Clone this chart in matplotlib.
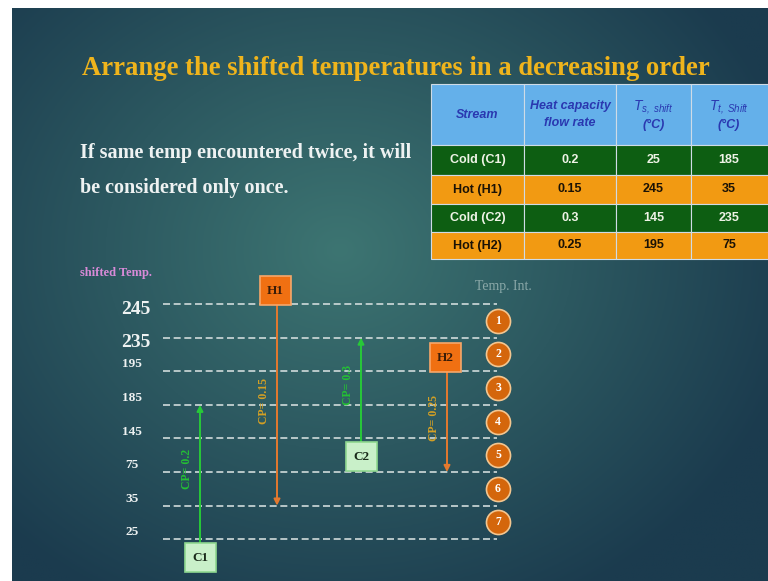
import numpy as np
import matplotlib.pyplot as plt
from matplotlib.patches import Rectangle

plt.rcParams['mathtext.fontset'] = 'custom'
plt.rcParams['mathtext.it'] = 'Liberation Sans:italic'
plt.rcParams['mathtext.rm'] = 'Liberation Sans:italic'

# data
temps = [245, 235, 195, 185, 145, 75, 35, 25]
streams = ["C1", "H1", "C2", "H2"]
stream_names = ["Cold (C1)", "Hot (H1)", "Cold (C2)", "Hot (H2)"]
cp = [0.2, 0.15, 0.3, 0.25]
t_start = [25, 245, 145, 195]
t_target = [185, 35, 235, 75]
intervals = [1, 2, 3, 4, 5, 6, 7]

W, H = 768, 581
fig = plt.figure(figsize=(W / 100, H / 100), dpi=100)
fig.patch.set_facecolor("white")

# background / page axes in pixel coords
bg = fig.add_axes([0, 0, 1, 1])
bg.set_xlim(0, W)
bg.set_ylim(H, 0)
bg.axis("off")

xx, yy = np.meshgrid(np.linspace(12, W, 300), np.linspace(8, H, 240))
d = np.sqrt(((xx - 340) / 470) ** 2 + ((yy - 250) / 400) ** 2)
d = np.clip(d, 0, 1)
c_in = np.array([0x3d, 0x75, 0x72]) / 255
c_out = np.array([0x1b, 0x3b, 0x4e]) / 255
img = c_in[None, None, :] * (1 - d[..., None]) + c_out[None, None, :] * d[..., None]
bg.imshow(img, extent=[12, W, H, 8], aspect="auto", zorder=0)

serif = "Liberation Serif"
sans = "Liberation Sans"

bg.text(396, 75, "Arrange the shifted temperatures in a decreasing order",
        ha="center", va="baseline", fontsize=19.2, family=serif,
        fontweight="bold", color="#efb41c")
bg.text(80, 158, "If same temp encountered twice, it will", ha="left",
        va="baseline", fontsize=14.5, family=serif, fontweight="bold",
        color="#eef2f2")
bg.text(80, 193, "be considered only once.", ha="left", va="baseline",
        fontsize=14.5, family=serif, fontweight="bold", color="#eef2f2")

# table
col_edges = [431, 524, 616, 691, 770]
row_edges = [84, 145, 175, 204, 232, 259]
head_blue = "#64b0ea"
green = "#0d5e12"
orange = "#f29a12"
for r in range(5):
    for c in range(4):
        if r == 0:
            fc = head_blue
        else:
            fc = green if stream_names[r - 1].startswith("Cold") else orange
        bg.add_patch(Rectangle((col_edges[c], row_edges[r]),
                               col_edges[c + 1] - col_edges[c],
                               row_edges[r + 1] - row_edges[r],
                               facecolor=fc, edgecolor="#cfdbe6", lw=0.8,
                               zorder=2))

cx = [(col_edges[i] + col_edges[i + 1]) / 2 for i in range(4)]
cx[3] = 729
hy = (row_edges[0] + row_edges[1]) / 2
hc = "#2a38b0"
bg.text(cx[0], hy, "Stream", ha="center", va="center", fontsize=9,
        family=sans, style="italic", fontweight="bold", color=hc, zorder=3)
bg.text(cx[1], hy, "Heat capacity\nflow rate", ha="center", va="center",
        fontsize=9, family=sans, style="italic", fontweight="bold",
        color=hc, zorder=3, linespacing=1.45)
bg.text(cx[2], hy - 8, r"$T_{s,\ shift}$", ha="center", va="center",
        fontsize=10, color=hc, zorder=3)
bg.text(cx[2], hy + 10, "(°C)", ha="center", va="center", fontsize=9,
        family=sans, style="italic", fontweight="bold", color=hc, zorder=3)
bg.text(cx[3], hy - 8, r"$T_{t,\ Shift}$", ha="center", va="center",
        fontsize=10, color=hc, zorder=3)
bg.text(cx[3], hy + 10, "(°C)", ha="center", va="center", fontsize=9,
        family=sans, style="italic", fontweight="bold", color=hc, zorder=3)

for i in range(4):
    y = (row_edges[i + 1] + row_edges[i + 2]) / 2
    tc = "#eef3e6" if stream_names[i].startswith("Cold") else "#1a1206"
    vals = [stream_names[i], str(cp[i]), str(t_start[i]), str(t_target[i])]
    for c in range(4):
        bg.text(cx[c], y, vals[c], ha="center", va="center", fontsize=9,
                family=sans, fontweight="bold", color=tc, zorder=3)

bg.text(80, 276, "shifted Temp.", ha="left", va="baseline", fontsize=9,
        family=serif, fontweight="bold", color="#d88ad8")
bg.text(503, 290, "Temp. Int.", ha="center", va="baseline", fontsize=10,
        family=serif, color="#8aa8a8")

# diagram axes: y = level index of the shifted temperature
y0_px, dy_px = 304, 33.6
ax = fig.add_axes([0, 0, 1, 1])
ax.patch.set_alpha(0)
ax.axis("off")
ax.set_xlim(0, W)
ax.set_ylim((H - y0_px) / dy_px, -y0_px / dy_px)

levels = np.arange(len(temps))
ax.hlines(levels, 163, 497, colors="#d0dbdb", lw=1.2,
          linestyles=(0, (4.2, 2.2)), zorder=2)

for i, t in enumerate(temps):
    big = i < 2
    ax.text(136 if big else 132, i + (0.15 if big else -0.2), str(t),
            ha="center", va="center", family=serif, fontweight="bold",
            fontsize=14 if big else 9.5, color="#eef2f2", zorder=3)

ax.scatter([498] * len(intervals), np.array(intervals) - 0.5, s=300,
           color="#d4660c", edgecolors="#f3c690", linewidths=1.2, zorder=3)
for k in intervals:
    ax.text(498, k - 0.5, str(k), ha="center", va="center", family=serif,
            fontweight="bold", fontsize=8.5, color="white", zorder=4)

stream_x = [200, 277, 361, 447]
half_h, half_w = 0.43, 15.5
for i, s in enumerate(streams):
    a = temps.index(t_start[i])
    b = temps.index(t_target[i])
    x = stream_x[i]
    hot = t_start[i] > t_target[i]
    if hot:
        yc = a - 0.4
        col, tcol, fc, ec, lc = "#e5792e", "#d4a024", "#f07012", "#f6a76a", "#3a1c08"
        ystart = yc + half_h
    else:
        yc = a + 0.55
        col, tcol, fc, ec, lc = "#27c938", "#24c034", "#c9f0c9", "#8fd890", "#1a2a1a"
        ystart = yc - half_h
    ax.annotate("", xy=(x, b), xytext=(x, ystart),
                arrowprops=dict(arrowstyle="-|>", color=col, lw=1.4,
                                shrinkA=0, shrinkB=0, mutation_scale=9),
                zorder=3)
    ax.add_patch(Rectangle((x - half_w - (2 if hot else 0), yc - half_h),
                           2 * half_w, 2 * half_h, facecolor=fc,
                           edgecolor=ec, lw=1.2, zorder=4))
    ax.text(x - (2 if hot else 0), yc, s, ha="center", va="center",
            family=serif, fontweight="bold", fontsize=9.5, color=lc, zorder=5)
    ax.text(x - 13, (a + b) / 2 - 0.1, f"CP= {cp[i]}", rotation=90,
            ha="center", va="center", family=serif, fontweight="bold",
            fontsize=8.5, color=tcol, zorder=3)

fig.savefig("out.png", dpi=100)
